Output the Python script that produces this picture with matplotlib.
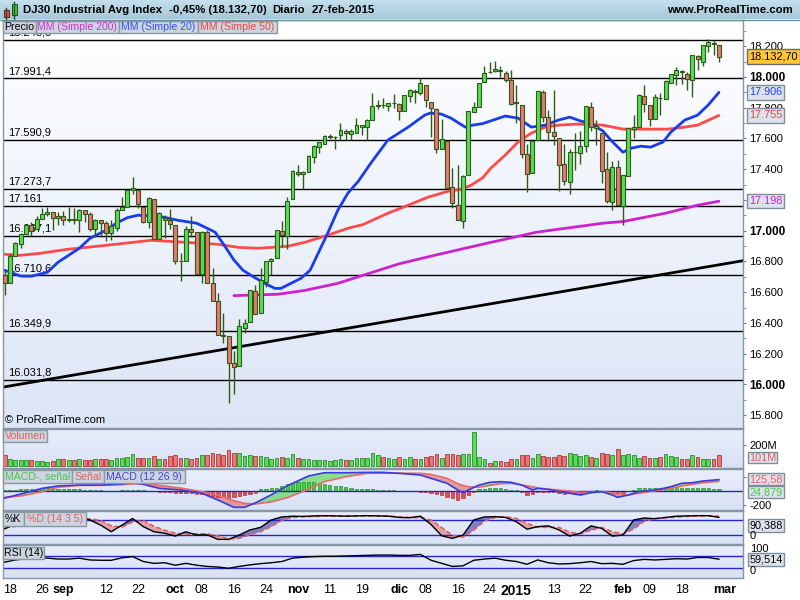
import numpy as np
import matplotlib
matplotlib.use('Agg')
import matplotlib.pyplot as plt
import matplotlib.colors as mcolors
from matplotlib.patches import Rectangle
from matplotlib.transforms import blended_transform_factory as btf

plt.rcParams['font.family'] = ['Liberation Sans', 'DejaVu Sans']

# ---------------- DATA ----------------
tick_idx = [1, 7, 11, 19, 25, 32, 37, 43, 49, 55, 61, 67, 74, 79, 85, 91, 96, 103, 109, 116, 121, 127, 135]
tick_labels = ['18', '26', 'sep', '12', '22', 'oct', '08', '16', '24', 'nov', '11', '19', 'dic',
               '08', '16', '24', '2015', '13', '22', 'feb', '09', '18', 'mar']
bold_labels = {'sep', 'oct', 'nov', 'dic', '2015', 'feb', 'mar'}

opens = [16713, 16663, 16839, 16914, 16979, 17039, 17013, 17077, 17107, 17120,
         17080, 17099, 17068, 17078, 17070, 17137, 17111, 17014, 17069, 17049,
         16988, 17017, 17132, 17157, 17266, 17265, 17156, 17056, 17204, 16944,
         17086, 17071, 17040, 16805, 16802, 17010, 16991, 16718, 16992, 16660,
         16543, 16322, 16313, 16137, 16118, 16365, 16404, 16606, 16463, 16664,
         16805, 16820, 17000, 16964, 17205, 17381, 17366, 17381, 17479, 17544,
         17564, 17611, 17608, 17620, 17650, 17630, 17635, 17675, 17674, 17720,
         17810, 17818, 17814, 17828, 17824, 17778, 17876, 17910, 17898, 17948,
         17837, 17792, 17531, 17583, 17283, 17166, 17062, 17362, 17772, 17805,
         17967, 18033, 18040, 18046, 18026, 17980, 17833, 17818, 17498, 17378,
         17590, 17902, 17739, 17642, 17603, 17433, 17316, 17511, 17505, 17550,
         17805, 17668, 17635, 17401, 17186, 17414, 17160, 17355, 17665, 17674,
         17876, 17818, 17726, 17863, 17857, 17961, 18013, 18039, 18020, 17980,
         18137, 18098, 18202, 18218, 18208]
highs = [16740, 16846, 16925, 16988, 17040, 17054, 17097, 17150, 17155, 17122,
         17119, 17128, 17157, 17150, 17140, 17137, 17121, 17074, 17069, 17064,
         17068, 17147, 17218, 17267, 17350, 17265, 17156, 17218, 17204, 17120,
         17100, 17140, 17040, 16857, 17028, 17094, 16991, 17000, 17003, 16757,
         16593, 16462, 16313, 16216, 16424, 16423, 16615, 16645, 16760, 16805,
         16820, 17006, 17066, 17220, 17395, 17426, 17387, 17490, 17555, 17574,
         17624, 17630, 17617, 17700, 17660, 17665, 17733, 17690, 17730, 17895,
         17848, 17862, 17828, 17889, 17828, 17880, 17924, 17920, 17991, 17950,
         17837, 17800, 17730, 17583, 17407, 17427, 17360, 17778, 17840, 17959,
         18069, 18098, 18103, 18073, 18040, 18043, 17948, 17818, 17562, 17597,
         17908, 17916, 17783, 17915, 17603, 17562, 17529, 17635, 17648, 17814,
         17840, 17720, 17635, 17512, 17453, 17459, 17362, 17666, 17752, 17890,
         17948, 17818, 17890, 17897, 17980, 18019, 18062, 18047, 18031, 18141,
         18140, 18209, 18244, 18241, 18208]
lows = [16579, 16663, 16839, 16888, 16979, 16966, 17013, 17077, 17093, 17002,
        17035, 17035, 17056, 17041, 16990, 17057, 17000, 16961, 16960, 16936,
        16943, 17000, 17132, 17157, 17240, 17148, 17049, 17015, 16945, 16944,
        16950, 17011, 16785, 16674, 16802, 16958, 16718, 16658, 16659, 16544,
        16321, 16267, 15880, 15935, 16118, 16336, 16404, 16458, 16463, 16636,
        16709, 16820, 16892, 16880, 17205, 17353, 17270, 17381, 17441, 17508,
        17564, 17594, 17530, 17591, 17590, 17590, 17635, 17620, 17590, 17720,
        17790, 17800, 17776, 17801, 17720, 17778, 17840, 17830, 17880, 17806,
        17610, 17505, 17531, 17281, 17151, 17068, 17016, 17362, 17772, 17805,
        17967, 18024, 18030, 18000, 17970, 17820, 17700, 17476, 17251, 17378,
        17590, 17705, 17581, 17557, 17257, 17298, 17237, 17394, 17436, 17512,
        17646, 17560, 17310, 17180, 17137, 17160, 17038, 17355, 17605, 17674,
        17772, 17680, 17726, 17756, 17857, 17961, 17948, 17956, 17915, 17870,
        18046, 18070, 18160, 18143, 18100]
closes = [16663, 16839, 16920, 16979, 17039, 17001, 17077, 17107, 17122, 17080,
          17098, 17068, 17078, 17070, 17137, 17111, 17014, 17069, 17049, 16988,
          17031, 17132, 17157, 17266, 17280, 17173, 17056, 17210, 16946, 17113,
          17071, 17043, 16805, 16801, 17010, 16992, 16719, 16994, 16659, 16544,
          16321, 16315, 16142, 16117, 16380, 16400, 16615, 16461, 16678, 16805,
          16818, 17006, 16974, 17195, 17391, 17366, 17384, 17485, 17554, 17574,
          17614, 17615, 17612, 17653, 17635, 17648, 17688, 17686, 17719, 17810,
          17818, 17815, 17828, 17828, 17777, 17880, 17913, 17900, 17959, 17852,
          17801, 17533, 17596, 17281, 17181, 17069, 17357, 17778, 17805, 17959,
          18024, 18030, 18054, 18038, 17983, 17823, 17833, 17502, 17372, 17585,
          17908, 17737, 17641, 17614, 17427, 17321, 17512, 17515, 17554, 17814,
          17673, 17679, 17387, 17191, 17417, 17165, 17361, 17666, 17673, 17885,
          17824, 17729, 17869, 17862, 17972, 18019, 18048, 18030, 17986, 18140,
          18117, 18209, 18225, 18214, 18133]
volume_m = [102, 70, 54, 54, 61, 54, 48, 48, 42, 48,
            70, 64, 54, 61, 70, 61, 61, 70, 64, 70,
            61, 80, 80, 86, 112, 77, 77, 80, 93, 70,
            70, 93, 102, 80, 80, 70, 80, 109, 102, 128,
            118, 109, 150, 125, 128, 93, 109, 93, 99, 86,
            70, 80, 86, 77, 112, 77, 70, 70, 61, 61,
            61, 48, 61, 70, 61, 61, 80, 80, 80, 128,
            102, 86, 80, 70, 86, 70, 86, 70, 70, 86,
            93, 112, 80, 118, 112, 109, 112, 118, 326, 86,
            70, 32, 45, 48, 38, 70, 70, 109, 102, 80,
            112, 93, 86, 86, 102, 96, 128, 112, 93, 102,
            86, 80, 128, 112, 102, 157, 102, 112, 102, 80,
            93, 80, 80, 86, 112, 93, 86, 70, 70, 102,
            86, 70, 70, 70, 101]

sma20_idx = [0, 3, 5, 8, 10, 14, 16, 19, 21, 23, 25, 29, 32.5, 36, 38, 39.5, 41.3, 43, 44.7, 46.2,
             48.8, 50.7, 51.8, 53.7, 55.6, 57.3, 58.8, 60.6, 62.5, 64.4, 66.3, 68.7, 71.9, 75.7, 78.8,
             79.8, 81.9, 83.7, 86.4, 87.8, 89.7, 93.9, 96.3, 98.8, 101.4, 103.9, 106, 108.1, 110, 111.3,
             112.2, 113.7, 116, 117.5, 119.4, 121.2, 123.5, 125, 127.6, 130, 132, 134]
sma20 = [16743, 16705, 16704, 16730, 16795, 16886, 16951, 17003, 17050, 17085,
         17101, 17094, 17068, 17049, 17016, 16990, 16900, 16810, 16743, 16710,
         16658, 16625, 16625, 16658, 16691, 16743, 16853, 16984, 17134, 17245,
         17320, 17440, 17590, 17674, 17752, 17765, 17759, 17733, 17674, 17687,
         17697, 17746, 17733, 17674, 17687, 17720, 17739, 17713, 17700, 17668,
         17650, 17590, 17511, 17537, 17550, 17544, 17577, 17642, 17720, 17752,
         17818, 17900]
sma50_idx = [0, 2.9, 6.6, 11.7, 15.4, 19.2, 22.6, 27.5, 33.8, 40, 43.8, 47.5, 53.1, 56.3, 60.6,
             64.4, 67.2, 71.9, 75.7, 79.4, 83.2, 85.6, 87.5, 89.7, 91.2, 93.9, 96.3, 98.8, 101.4,
             103.9, 107.6, 112.2, 116, 120.7, 124.4, 127.6, 130, 134]
sma50 = [16847, 16840, 16853, 16879, 16892, 16906, 16919, 16938, 16925, 16912,
         16892, 16886, 16899, 16925, 16971, 17016, 17040, 17114, 17166, 17218,
         17257, 17270, 17296, 17345, 17407, 17492, 17577, 17635, 17674, 17687,
         17694, 17687, 17661, 17661, 17661, 17674, 17687, 17750]
sma200_idx = [43, 51.3, 56.3, 62.5, 67.2, 74, 80, 90, 99.7, 112.2, 116, 124, 130, 134]
sma200 = [16578, 16587, 16612, 16658, 16710, 16785, 16835, 16915, 16990, 17049, 17060, 17114, 17166, 17192]

trend_idx = [-1, 139]
trend_val = [15979, 16808]

levels = [18243.5, 17991.4, 17590.9, 17273.7, 17161.0, 16967.1, 16710.6, 16349.9, 16031.8]
level_labels = ['18.243,5', '17.991,4', '17.590,9', '17.273,7', '17.161', '16.967,1',
                '16.710,6', '16.349,9', '16.031,8']

macd_idx = [0, 3, 7, 10, 14, 18, 22, 24, 26, 29, 33, 37, 40, 43, 45, 47, 50, 53, 57, 60,
            64, 68, 71, 74, 78, 80, 83, 85, 86, 87, 89, 91, 93, 95, 97, 99, 100, 102, 104, 106,
            108, 110, 112, 114, 115, 117, 119, 121, 123, 125, 127, 129, 131, 134]
macd_line = [-105, -48, 33, 68, 81, 81, 95, 114, 90, 33,
             10, -38, -133, -238, -238, -175, -60, 70, 210, 257,
             257, 262, 262, 248, 224, 176, 105, 10, -29, 10,
             81, 119, 129, 119, 81, 10, 33, 19, -14, -38,
             -62, -29, -14, -62, -95, -62, -14, 0, 24, 57,
             105, 114, 138, 158]
macd_signal = [-95, -76, -14, 48, 76, 76, 86, 95, 105, 76,
               38, -14, -62, -143, -181, -190, -160, -100, 20, 129,
               200, 248, 250, 250, 248, 233, 176, 100, 75, 55,
               50, 75, 100, 105, 81, 57, 40, 22, 10, -5,
               -24, -24, -14, -30, -48, -62, -38, -14, 10, 33,
               67, 90, 114, 133]
macd_hist = [5, 10, 15, 20, 25, 30, 30, 35, 35, 30,
             28, 25, 20, 18, 20, 15, 10, 8, 5, -5,
             -8, -5, 3, 8, 12, 10, 5, 0, -10, -12,
             -15, -20, -30, -40, -35, -40, -50, -45, -60, -70,
             -85, -90, -100, -95, -80, -60, -45, -30, 20, 30,
             35, 45, 70, 95, 110, 120, 125, 125, 120, 110,
             100, 85, 70, 60, 50, 40, 30, 25, 20, 20,
             15, 10, 10, 5, 0, -5, -8, -10, -15, -25,
             -35, -50, -60, -85, -110, -130, -100, -60, -20, 20,
             30, 35, 38, 35, 20, 12, 5, -25, -55, -50,
             -15, -20, -15, -25, -35, -45, -40, -40, -35, -15,
             -5, 8, 0, -20, -25, -40, -30, -5, 15, 35,
             40, 35, 35, 35, 40, 45, 50, 40, 35, 40,
             38, 38, 35, 30, 25]

osc_idx = list(range(0, 135, 2))
stoch_k = [45, 65, 85, 90, 94, 88, 85, 92, 80, 60,
           34, 60, 86, 54, 34, 28, 17, 34, 21, 22,
           4, 4, 21, 41, 51, 80, 92, 95, 94, 96,
           97, 96, 95, 96, 97, 96, 95, 90, 89, 95,
           62, 18, 8, 21, 80, 92, 93, 90, 73, 44,
           54, 57, 41, 17, 28, 57, 47, 17, 21, 80,
           88, 85, 90, 95, 96, 97, 97, 90.4]
stoch_d = [50, 55, 70, 82, 90, 90, 88, 88, 84, 78,
           57, 52, 72, 78, 55, 40, 28, 24, 26, 26,
           17, 6, 8, 22, 34, 54, 78, 90, 93, 94,
           95, 96, 96, 96, 96, 96, 96, 92, 90, 89,
           80, 50, 20, 13, 40, 76, 90, 93, 86, 67,
           52, 51, 51, 32, 26, 40, 51, 34, 25, 45,
           75, 86, 89, 91, 94, 96, 96, 95]
rsi = [50, 57, 61, 65, 63, 60, 60, 63, 57, 56,
       56, 64, 68, 52, 46, 48, 40, 46, 40, 36,
       34, 30, 36, 41, 45, 48, 52, 63, 66, 68,
       69, 69, 70, 71, 72, 73, 73, 72, 72, 75,
       56, 46, 36, 38, 56, 60, 63, 56, 52, 43,
       57, 48, 44, 45, 48, 52, 45, 46, 43, 55,
       59, 57, 59, 61, 60, 65, 65, 59.5]

# ---------------- FIGURE ----------------
W, H = 800, 600
fig = plt.figure(figsize=(W / 100, H / 100), dpi=100)
fig.patch.set_facecolor('white')

X_OFF, X_STEP = 4.7, 5.33
XL = ((3 - X_OFF) / X_STEP, (743 - X_OFF) / X_STEP)
EDGE = '#8796a5'


def add_ax(x0, y0, x1, y1, z=1):
    a = fig.add_axes([x0 / W, 1 - y1 / H, (x1 - x0) / W, (y1 - y0) / H])
    a.set_zorder(z)
    return a


def grad(ax, c_top, c_bot):
    a = np.array(mcolors.to_rgb(c_top))
    b = np.array(mcolors.to_rgb(c_bot))
    t = np.linspace(0, 1, 200)[:, None]
    img = (a * (1 - t) + b * t)[:, None, :]
    ax.imshow(img, extent=[0, 1, 0, 1], transform=ax.transAxes, aspect='auto',
              origin='upper', zorder=0, interpolation='bilinear')


def style(ax):
    for s in ax.spines.values():
        s.set_color(EDGE)
        s.set_linewidth(1)
    ax.tick_params(axis='x', bottom=False, labelbottom=False)
    ax.yaxis.tick_right()
    ax.tick_params(axis='y', which='both', direction='out', length=2.5, color='#6f7e8c',
                   labelsize=8, pad=2)


idx = np.arange(len(closes))
o = np.array(opens, float)
c = np.array(closes, float)
hi = np.array(highs, float)
lo = np.array(lows, float)
up = c >= o
GREEN, RED, DARK = '#55dd55', '#ef7474', '#2f5a17'

# ---------- main price panel ----------
ax = add_ax(3, 20, 743, 428)
grad(ax, '#ffffff', '#dce5f6')
style(ax)
Y_TOP = 18000 + (77 - 20) / 0.15375
Y_BOT = 18000 - (428 - 77) / 0.15375
tr_main = btf(ax.transAxes, ax.transData)
for v, lab in zip(levels, level_labels):
    ax.axhline(v, color='black', lw=1, zorder=1)
    ax.annotate(lab, xy=(0.007, v), xycoords=tr_main, xytext=(0, 1.5),
                textcoords='offset points', fontsize=8, ha='left', va='bottom', zorder=1.5)
ax.plot(trend_idx, trend_val, color='black', lw=2, zorder=2)
ax.plot(sma200_idx, sma200, color='#cc22cc', lw=2, zorder=2.2, solid_capstyle='round')
ax.plot(sma50_idx, sma50, color='#ff4a4a', lw=2, zorder=2.2, solid_capstyle='round')
ax.plot(sma20_idx, sma20, color='#1a3cf0', lw=2, zorder=2.3, solid_capstyle='round')
ax.vlines(idx, lo, hi, color=DARK, lw=1, zorder=3)
body_h = np.maximum(np.abs(c - o), 2.0)
ax.bar(idx, body_h, bottom=np.minimum(o, c), width=0.74,
       color=np.where(up, GREEN, RED), edgecolor=DARK, linewidth=0.8, zorder=3.5)
ax.set_xlim(*XL)
ax.set_ylim(Y_BOT, Y_TOP)
ax.set_yticks(np.arange(15800, 18201, 200))
ax.set_yticks(np.arange(15800, 18301, 100), minor=True)
ax.set_yticklabels([f"{int(v) // 1000}.{int(v) % 1000:03d}" for v in np.arange(15800, 18201, 200)])
for t, v in zip(ax.get_yticklabels(), np.arange(15800, 18201, 200)):
    if v % 1000 == 0:
        t.set_fontweight('bold')
        t.set_fontsize(8.5)
ax.text(0.003, 0.02, '© ProRealTime.com', transform=ax.transAxes, fontsize=8,
        ha='left', va='center', zorder=4)
box_kw = dict(boxstyle='square,pad=0.2', fc='#dde3ed', ec='#7d8d9c', lw=1)
ax.text(1.008, closes[-1], '18.132,70', transform=tr_main, fontsize=7.8, ha='left',
        va='center', clip_on=False, zorder=20,
        bbox=dict(boxstyle='square,pad=0.2', fc='#ffc830', ec='#6a6a6a', lw=1))
ax.text(1.008, sma20[-1], '17.906', transform=tr_main, fontsize=7.8, color='#2040f0',
        ha='left', va='center', clip_on=False, zorder=20, bbox=box_kw)
ax.text(1.008, sma50[-1], '17.755', transform=tr_main, fontsize=7.8, color='#f04040',
        ha='left', va='center', clip_on=False, zorder=20, bbox=box_kw)
ax.text(1.008, sma200[-1], '17.198', transform=tr_main, fontsize=7.8, color='#cc22cc',
        ha='left', va='center', clip_on=False, zorder=20, bbox=box_kw)

# ---------- volume panel ----------
av = add_ax(3, 429, 743, 468)
grad(av, '#e9eefa', '#d9e1f5')
style(av)
vol = np.array(volume_m, float)
av.bar(idx, vol, width=0.7, color=np.where(up, GREEN, RED),
       edgecolor=np.where(up, '#2e8a2e', '#a83a3a'), linewidth=0.6, zorder=2)
av.set_xlim(*XL)
av.set_ylim(-19, 352)
av.set_yticks([200])
av.set_yticklabels(['200M'])

# ---------- MACD panel ----------
am = add_ax(3, 469, 743, 510)
grad(am, '#e9eefa', '#d9e1f5')
style(am)
mx = np.array(macd_idx, float)
ml = np.array(macd_line, float)
ms = np.array(macd_signal, float)
am.fill_between(mx, ml, ms, where=ml >= ms, interpolate=True, color='#49d649', alpha=0.6, lw=0, zorder=1)
am.fill_between(mx, ml, ms, where=ml < ms, interpolate=True, color='#e06868', alpha=0.6, lw=0, zorder=1)
mh = np.array(macd_hist, float)
am.bar(idx, mh, width=0.62, color=np.where(mh >= 0, '#44d044', '#e05050'),
       edgecolor=np.where(mh >= 0, '#2e8a2e', '#a83a3a'), linewidth=0.5, zorder=2)
am.axhline(0, color='#2424d0', lw=1, zorder=2.5)
am.plot(mx, ms, color='#e86a6a', lw=1.2, zorder=3)
am.plot(mx, ml, color='#3a3ae0', lw=1.2, zorder=3.2)
am.set_xlim(*XL)
am.set_ylim(-276, 310)
am.set_yticks([-200, 200])
am.set_yticklabels(['-200', ''])

# ---------- Stochastic panel ----------
ast = add_ax(3, 511, 743, 544)
grad(ast, '#e9eefa', '#d9e1f5')
style(ast)
sx = np.array(osc_idx, float)
sk = np.array(stoch_k, float)
sd = np.array(stoch_d, float)
ast.fill_between(sx, sk, sd, where=sk >= sd, interpolate=True, color='#5656b0', alpha=0.7, lw=0, zorder=1)
ast.fill_between(sx, sk, sd, where=sk < sd, interpolate=True, color='#e08888', alpha=0.7, lw=0, zorder=1)
ast.axhline(80, color='#2424d0', lw=1, zorder=2)
ast.axhline(20, color='#2424d0', lw=1, zorder=2)
ast.plot(sx, sd, color='#e06060', lw=1.2, ls=(0, (3, 1.5)), zorder=3)
ast.plot(sx, sk, color='black', lw=1, zorder=3.2)
ast.set_xlim(*XL)
ast.set_ylim(-14.1, 115.3)
ast.set_yticks([])

# ---------- RSI panel ----------
ar = add_ax(3, 545, 743, 577.5)
grad(ar, '#e9eefa', '#d9e1f5')
style(ar)
ar.axhline(70, color='#2424d0', lw=1, zorder=2)
ar.axhline(30, color='#2424d0', lw=1, zorder=2)
ar.plot(sx, rsi, color='black', lw=1, zorder=3)
ar.set_xlim(*XL)
ar.set_ylim(0, 105.7)
ar.set_yticks([])
ar.set_xticks(tick_idx)
ar.set_xticklabels(tick_labels)
ar.tick_params(axis='x', bottom=True, labelbottom=True, length=0, pad=5, labelsize=9)
for t in ar.get_xticklabels():
    if t.get_text() in bold_labels:
        t.set_fontweight('bold')
    if t.get_text() == '2015':
        t.set_fontsize(10)

# ---------- header ----------
hd = add_ax(0, 0, 800, 19.5, z=5)
grad(hd, '#c6e1ee', '#a6c7d8')
hd.set_xlim(0, 800)
hd.set_ylim(19.5, 0)
hd.axis('off')

# ---------- overlay (legend boxes, value boxes) ----------
ov = fig.add_axes([0, 0, 1, 1])
ov.set_zorder(10)
ov.set_xlim(0, 800)
ov.set_ylim(600, 0)
ov.axis('off')
ov.patch.set_alpha(0)

ov.plot([0, 800], [19.5, 19.5], color='#6f8fa0', lw=1)
# icon
ov.plot([6, 6], [8, 19], color='#553322', lw=1)
ov.add_patch(Rectangle((4, 10), 4.5, 7, fc='#e85050', ec='#553322', lw=0.8))
ov.plot([14, 14], [1.5, 18.5], color='#225522', lw=1)
ov.add_patch(Rectangle((12, 3.5), 4.5, 11.5, fc='#44cc44', ec='#225522', lw=0.8))
ov.text(23, 10, 'DJ30 Industrial Avg Index', fontsize=8.2, fontweight='bold', va='center')
ov.text(169, 10, '-0,45% (18.132,70)', fontsize=8.2, fontweight='bold', va='center')
ov.text(272, 10, 'Diario', fontsize=8.2, fontweight='bold', va='center')
ov.text(312, 10, '27-feb-2015', fontsize=8.2, fontweight='bold', va='center')
ov.text(793, 10, 'www.ProRealTime.com', fontsize=8.2, fontweight='bold', va='center', ha='right')


def lbox(x0, y0, x1, y1, text, color, fs=7.6):
    ov.add_patch(Rectangle((x0, y0), x1 - x0, y1 - y0, fc='#ccd5df', ec='#8a98a6', lw=1))
    ov.text((x0 + x1) / 2, (y0 + y1) / 2 + 0.5, text, color=color, fontsize=fs,
            ha='center', va='center')


lbox(3, 20.5, 35.5, 33, 'Precio', 'black')
lbox(36, 20.5, 118.5, 33, 'MM (Simple 200)', '#cc33cc')
lbox(119, 20.5, 197.5, 33, 'MM (Simple 20)', '#3355ee')
lbox(198, 20.5, 277, 33, 'MM (Simple 50)', '#ee4444')
lbox(3, 429.5, 47, 442, 'Volumen', '#e06060')
lbox(3, 469.5, 71.5, 483, 'MACD-, señal', '#44c844')
lbox(72, 469.5, 103.5, 483, 'Señal', '#e06060')
lbox(104, 469.5, 184.5, 483, 'MACD (12 26 9)', '#4444d0')
lbox(3, 512, 23.5, 526, '%K', 'black')
lbox(24, 512, 86, 526, '%D (14 3 5)', '#e06060')
lbox(3, 546.5, 44, 559, 'RSI (14)', 'black')


def vbox(x0, y0, x1, y1, text, color):
    ov.add_patch(Rectangle((x0, y0), x1 - x0, y1 - y0, fc='#dde3ed', ec='#7d8d9c', lw=1))
    ov.text((x0 + x1) / 2, (y0 + y1) / 2 + 0.5, text, color=color, fontsize=7.8,
            ha='center', va='center')


ov.text(750, 536, '0', fontsize=8, va='center', ha='left')
ov.text(750, 549.5, '100', fontsize=8, va='center', ha='left')
ov.text(750, 571.5, '0', fontsize=8, va='center', ha='left')
vbox(748, 452, 777, 463, '101M', '#e06060')
vbox(748, 473, 784, 485, '125,58', '#e06060')
vbox(748, 486, 784, 498, '24,879', '#44c844')
vbox(748, 519, 784, 532, '90,388', 'black')
vbox(748, 553, 784, 566, '59,514', 'black')

fig.savefig('out.png', dpi=100, facecolor='white')
